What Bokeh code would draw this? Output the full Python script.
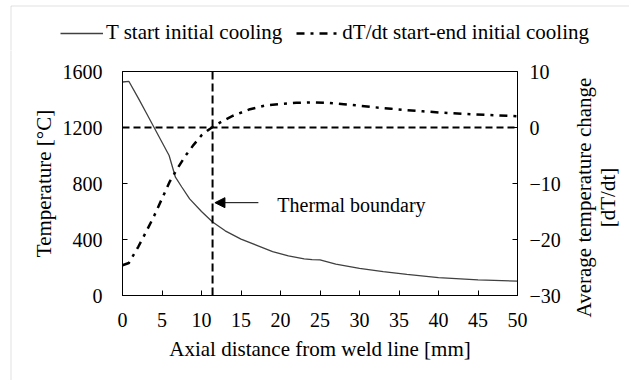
import math
from bokeh.plotting import figure
from bokeh.layouts import column, row
from bokeh.models import (Range1d, LinearAxis, Span, Arrow, NormalHead, Label,
                          Legend, LegendItem, FixedTicker, BoxAnnotation)
from bokeh.embed import file_html
from bokeh.resources import INLINE

# ---- data ----
dist_T = [0, 0.8, 2, 3, 4, 5, 5.9, 6.7, 7.5, 8.5, 10, 11.4, 13, 15, 17, 19, 21,
          23, 24, 25, 27, 30, 33, 36, 40, 45, 50]
temp_T = [1525, 1530, 1410, 1305, 1200, 1095, 1000, 845, 775, 690, 600, 525, 462,
          403, 358, 313, 283, 262, 256, 255, 224, 193, 170, 151, 128, 112, 102]

dist_R = [0, 0.8, 2, 3, 4, 5, 6, 7, 8, 9, 10, 11, 12, 13, 14, 16, 18, 20, 22, 24,
          26, 28, 30, 32, 34, 36, 38, 40, 43, 46, 50]
rate_R = [-24.6, -24.2, -21.3, -18.6, -15.8, -12.7, -9.6, -7.2, -5.0, -3.1, -1.4,
          -0.3, 0.6, 1.4, 2.1, 3.2, 3.9, 4.2, 4.4, 4.5, 4.4, 4.15, 3.9, 3.6, 3.35,
          3.1, 2.9, 2.7, 2.45, 2.25, 2.0]

x_ticks = [0, 5, 10, 15, 20, 25, 30, 35, 40, 45, 50]
temp_ticks = [0, 400, 800, 1200, 1600]
rate_ticks = [-30, -20, -10, 0, 10]

boundary_x = 11.4
zero_rate_temp = 1200
label_T = "T start initial cooling"
label_R = "dT/dt start-end initial cooling"
right_title = ["Average temperature change", "[dT/dt]"]

FONT = "Liberation Serif"
BORDER_COLOR = "#999999"
T_STYLE = dict(line_color="#404040", line_width=1.3)
R_STYLE = dict(line_color="black", line_width=2.5, line_dash="8 6 3 6")


def strip(w, h):
    fig = figure(width=w, height=h, output_backend="svg", toolbar_location=None,
                 x_range=Range1d(0, 1), y_range=Range1d(0, 1),
                 x_axis_type=None, y_axis_type=None,
                 min_border=0, min_border_left=0, min_border_right=0,
                 min_border_top=0, min_border_bottom=0)
    fig.xgrid.visible = False
    fig.ygrid.visible = False
    fig.outline_line_color = None
    fig.frame_align = False
    return fig


def border_box(left, right, top, bottom):
    return BoxAnnotation(left=left, right=right, top=top, bottom=bottom,
                         left_units="screen", right_units="screen",
                         top_units="screen", bottom_units="screen",
                         fill_alpha=0, line_color=BORDER_COLOR, line_width=1)

# ---------- legend strip (top) ----------
top = strip(629, 50)
top.add_layout(border_box(10.5, 2000, 44.5, -1000))
# legend proxies: the real series, which fall outside this strip's ranges
lT = top.line(dist_T, temp_T, **T_STYLE)
lR = top.line(dist_R, rate_R, **R_STYLE)
legend = Legend(items=[LegendItem(label=label_T, renderers=[lT]),
                       LegendItem(label=label_R, renderers=[lR])],
                orientation="horizontal", location=(60, 5),
                glyph_width=43, glyph_height=20, label_height=20,
                label_standoff=3, spacing=14, padding=0, margin=0,
                label_text_font=FONT, label_text_font_size="21px",
                label_text_color="black",
                border_line_alpha=0, background_fill_alpha=0)
top.add_layout(legend, "center")

# ---------- left border strip ----------
left = strip(12, 330)
left.add_layout(border_box(10.5, 1000, 1000, -1000))

# ---------- main chart ----------
p = figure(width=558, height=330, output_backend="svg", toolbar_location=None,
           x_range=Range1d(0, 50), y_range=Range1d(0, 1600),
           min_border_left=110, min_border_right=53, min_border_top=21,
           min_border_bottom=85)
p.frame_align = False
p.extra_y_ranges = {"rate": Range1d(-30, 10)}
p.xgrid.visible = False
p.ygrid.visible = False
p.outline_line_color = "black"
p.outline_line_width = 1

def style_axis(ax, title, standoff, title_standoff):
    ax.axis_label = title
    ax.axis_label_text_font = FONT
    ax.axis_label_text_font_size = "21px"
    ax.axis_label_text_font_style = "normal"
    ax.axis_label_text_color = "black"
    ax.axis_label_standoff = title_standoff
    ax.major_label_text_font = FONT
    ax.major_label_text_font_size = "20px"
    ax.major_label_text_color = "black"
    ax.major_label_standoff = standoff
    ax.major_tick_in = 5
    ax.major_tick_out = 0
    ax.minor_tick_line_color = None
    ax.axis_line_color = "black"
    ax.major_tick_line_color = "black"

p.xaxis.ticker = FixedTicker(ticks=x_ticks)
p.yaxis.ticker = FixedTicker(ticks=temp_ticks)
style_axis(p.xaxis[0], "Axial distance from weld line [mm]", 17, 7)
style_axis(p.yaxis[0], "Temperature [°C]", 20, 4)

raxis = LinearAxis(y_range_name="rate", ticker=FixedTicker(ticks=rate_ticks))
style_axis(raxis, None, 12, 0)
p.add_layout(raxis, "right")

p.add_layout(Span(location=zero_rate_temp, dimension="width", line_color="black",
                  line_width=2, line_dash="7 4"))
p.add_layout(Span(location=boundary_x, dimension="height", line_color="black",
                  line_width=2, line_dash="8 4"))

p.line(dist_T, temp_T, **T_STYLE)
p.line(dist_R, rate_R, y_range_name="rate", **R_STYLE)

p.add_layout(Arrow(end=NormalHead(size=10, fill_color="black", line_color="black"),
                   x_start=17.2, y_start=663, x_end=11.7, y_end=663,
                   line_color="black", line_width=1))
p.add_layout(Label(x=19.6, y=645, text="Thermal boundary", text_font=FONT,
                   text_font_size="20px", text_baseline="middle", text_color="black"))

# ---------- right-axis title strip ----------
side = strip(59, 330)
for txt, xs in zip(right_title, [13, 37]):
    side.add_layout(Label(x=xs, y=183, x_units="screen", y_units="screen",
                          text=txt, angle=math.pi / 2, text_font=FONT,
                          text_font_size="21px", text_align="center",
                          text_baseline="middle", text_color="black"))

# ---------- bottom border strip ----------
bottom = strip(629, 3)
bottom.add_layout(border_box(10.5, 2000, 1000, 1.5))

layout = column(top, row(left, p, side, spacing=0), bottom, spacing=0)
open("out.html", "w").write(file_html(layout, INLINE))
